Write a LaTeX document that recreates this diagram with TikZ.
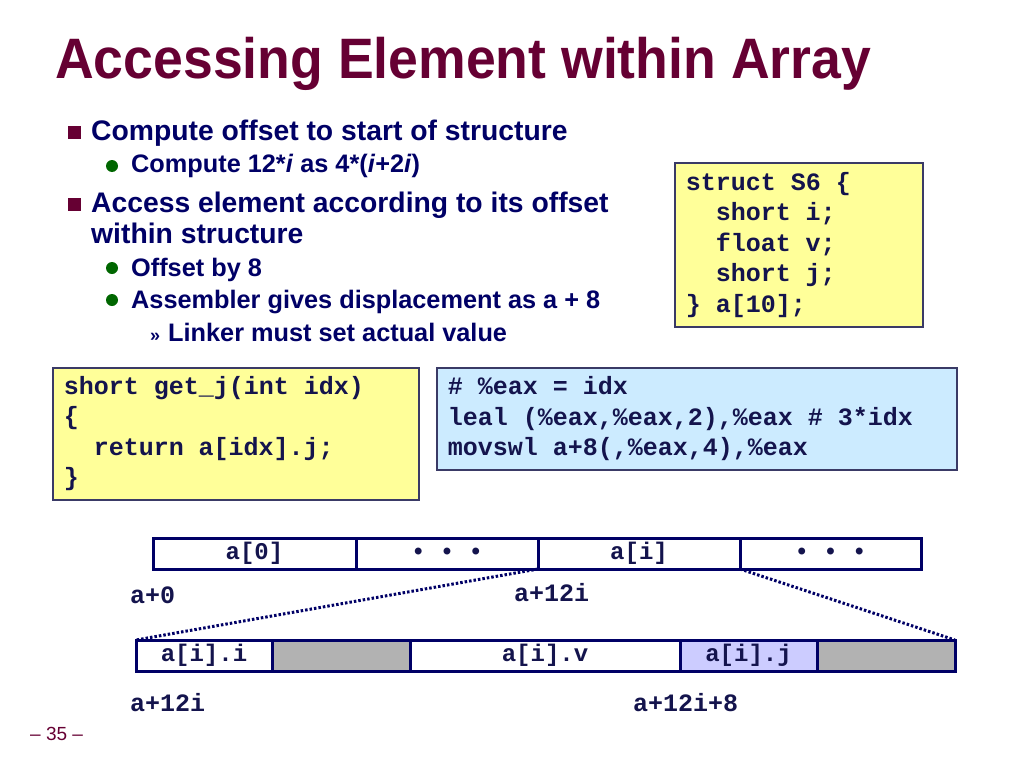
\documentclass[tikz,border=0pt]{standalone}
\usepackage{fontspec}
\setmainfont{Liberation Sans}
\setmonofont{Liberation Mono}
\newfontfamily\titlefont[FakeStretch=0.94]{Liberation Sans}
\usetikzlibrary{positioning}
\newcommand\codespacing{\spaceskip 15pt\xspaceskip 15pt\relax}

\definecolor{slidemaroon}{HTML}{660033}
\definecolor{slidenavy}{HTML}{000066}
\definecolor{codenavy}{HTML}{14144D}
\definecolor{boxedge}{HTML}{3A3A66}
\definecolor{codeyellow}{HTML}{FFFF99}
\definecolor{codeblue}{HTML}{CCEBFF}
\definecolor{padgray}{HTML}{B2B2B2}
\definecolor{fieldblue}{HTML}{CCCCFF}
\definecolor{bulletgreen}{HTML}{006600}

\tikzset{
  bodytext/.style={anchor=base west, inner sep=0pt, text=slidenavy, font=\bfseries\fontsize{28.3}{30}\selectfont},
  subtext/.style={bodytext, font=\bfseries\fontsize{25.3}{26}\selectfont},
  codebox/.style={draw=boxedge, line width=1.5pt, anchor=north west, inner xsep=11pt, inner ysep=0pt, align=left, text=codenavy, font=\ttfamily\bfseries\fontsize{25}{30.5}\selectfont},
  cell/.style={draw=slidenavy, line width=3pt, outer sep=0pt, inner sep=0pt, minimum height=31pt, text=codenavy, font=\ttfamily\bfseries\fontsize{24}{26}\selectfont},
  addr/.style={anchor=base west, inner sep=0pt, text=codenavy, font=\ttfamily\bfseries\fontsize{25}{26}\selectfont},
  zoomline/.style={draw=slidenavy, line width=3pt, dash pattern=on 2.5pt off 2pt},
}

\begin{document}
\begin{tikzpicture}[x=1pt,y=-1pt]
\useasboundingbox (0,0) rectangle (1024,768);
% title
\node[anchor=base west, inner sep=0pt, text=slidemaroon, font=\titlefont\bfseries\fontsize{57}{60}\selectfont] (title) at (55,78) {Accessing Element within Array};
% bullets
\fill[slidemaroon] (68,126) rectangle (81,139);
\node[bodytext] (pt1) at (91,140) {Compute offset to start of structure};
\fill[bulletgreen] (112,166) circle (6);
\node[subtext] (pt1a) at (131,172) {Compute 12*\textit{i} as 4*(\textit{i}+2\textit{i})};
\fill[slidemaroon] (68,198) rectangle (81,211);
\node[bodytext] (pt2) at (91,212) {Access element according to its offset};
\node[bodytext] (pt2b) at (91,243) {within structure};
\fill[bulletgreen] (112,268) circle (6);
\node[subtext] (pt2a) at (131,276) {Offset by 8};
\fill[bulletgreen] (112,300) circle (6);
\node[subtext] (pt2c) at (131,308) {Assembler gives displacement as a + 8};
\node[anchor=base west, inner sep=0pt, text=slidenavy, font=\bfseries\fontsize{18}{20}\selectfont] (guil) at (150,341) {»};
\node[subtext] (pt2d) at (168,341) {Linker must set actual value};
% code boxes
\node[codebox, fill=codeyellow, minimum width=248pt, minimum height=164pt, text width=226pt] (structdef) at (674,162)
  {\codespacing struct S6 \{\\\phantom{xx}short i;\\\phantom{xx}float v;\\\phantom{xx}short j;\\\} a[10];};
\node[codebox, fill=codeyellow, minimum width=366pt, minimum height=132pt, text width=344pt] (getj) at (52,367)
  {\codespacing short get\_j(int idx)\\\{\\\phantom{xx}return a[idx].j;\\\}};
\node[codebox, fill=codeblue, minimum width=520pt, minimum height=102pt, text width=498pt] (asm) at (436,367)
  {\codespacing \# \%eax = idx\\leal (\%eax,\%eax,2),\%eax \# 3*idx\\movswl a+8(,\%eax,4),\%eax};
% array
\node[cell, anchor=north west, minimum width=203pt] (a0) at (153,538) {a[0]};
\node[cell, minimum width=182pt, right=0pt of a0] (dots1) {\textbullet\ \textbullet\ \textbullet};
\node[cell, minimum width=202pt, right=0pt of dots1] (ai) {a[i]};
\node[cell, minimum width=181pt, right=0pt of ai] (dots2) {\textbullet\ \textbullet\ \textbullet};
\node[addr] (addr0) at (130,603) {a+0};
\node[addr] (addri) at (514,601) {a+12i};
% structure
\node[cell, anchor=north west, minimum width=136pt] (fi) at (136,640) {a[i].i};
\node[cell, fill=padgray, minimum width=138pt, right=0pt of fi] (pad1) {};
\node[cell, minimum width=270pt, right=0pt of pad1] (fv) {a[i].v};
\node[cell, fill=fieldblue, minimum width=137pt, right=0pt of fv] (fj) {a[i].j};
\node[cell, fill=padgray, minimum width=138pt, right=0pt of fj] (pad2) {};
\node[addr] (addrs) at (130,711) {a+12i};
\node[addr] (addrj) at (633,711) {a+12i+8};
\draw[zoomline] (ai.south west) -- (fi.north west);
\draw[zoomline] (ai.south east) -- (pad2.north east);
% page number
\node[anchor=base west, inner sep=0pt, text=slidemaroon, font=\fontsize{19}{20}\selectfont] (pagenum) at (30,740) {– 35 –};
\end{tikzpicture}
\end{document}
